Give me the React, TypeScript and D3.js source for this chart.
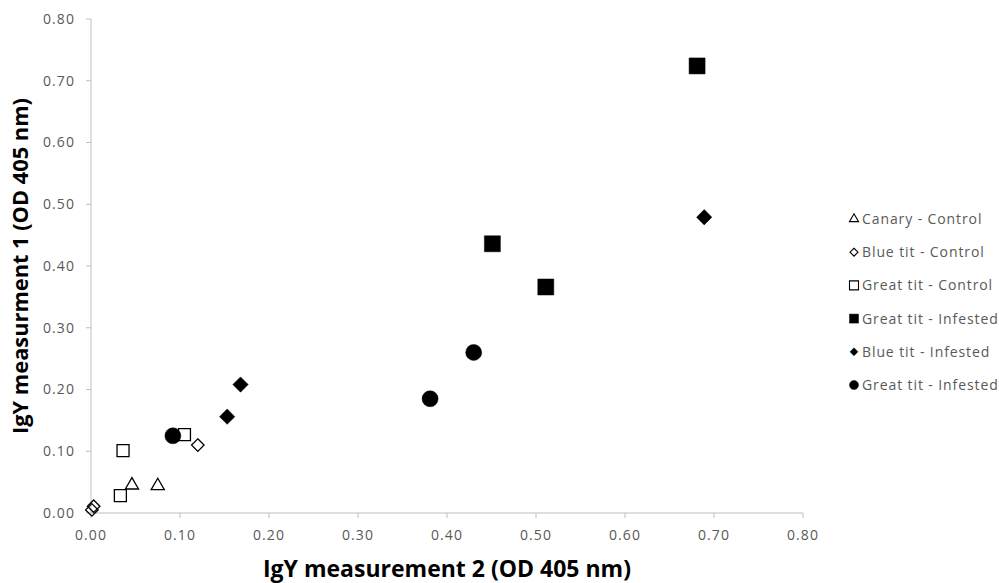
import React from "react";
import * as d3 from "d3";

const xTicks = [0, 0.1, 0.2, 0.3, 0.4, 0.5, 0.6, 0.7, 0.8];
const yTicks = [0, 0.1, 0.2, 0.3, 0.4, 0.5, 0.6, 0.7, 0.8];

const seriesNames = [
  "Canary - Control",
  "Blue tit - Control",
  "Great tit - Control",
  "Great tit - Infested",
  "Blue tit - Infested",
  "Great tit - Infested",
];
const seriesShapes = ["triangle", "diamond", "square", "square", "diamond", "circle"];
const seriesFilled = [false, false, false, true, true, true];

const canaryControl = [
  [0.046, 0.045],
  [0.075, 0.044],
];
const blueTitControl = [
  [0.12, 0.11],
  [0.003, 0.011],
  [0.001, 0.005],
];
const greatTitControl = [
  [0.105, 0.127],
  [0.036, 0.101],
  [0.033, 0.028],
];
const greatTitInfestedSq = [
  [0.681, 0.724],
  [0.451, 0.436],
  [0.511, 0.366],
];
const blueTitInfested = [
  [0.689, 0.479],
  [0.168, 0.208],
  [0.153, 0.156],
];
const greatTitInfestedCirc = [
  [0.43, 0.26],
  [0.381, 0.185],
  [0.092, 0.125],
];
const seriesData = [
  canaryControl,
  blueTitControl,
  greatTitControl,
  greatTitInfestedSq,
  blueTitInfested,
  greatTitInfestedCirc,
];

const W = 999;
const H = 583;
const FONT = "'Open Sans', Lato, sans-serif";

function markerPath(shape: string, size: number): string {
  const symType =
    shape === "triangle"
      ? d3.symbolTriangle
      : shape === "diamond"
      ? d3.symbolDiamond2
      : shape === "square"
      ? d3.symbolSquare
      : d3.symbolCircle;
  return d3.symbol().type(symType).size(size)() as string;
}

function plotSize(shape: string, filled: boolean): number {
  if (shape === "square") return filled ? 16 * 16 : 12 * 12;
  if (shape === "circle") return Math.PI * 8 * 8;
  if (shape === "diamond") return filled ? 150 : 100;
  return 75;
}

function legendSize(shape: string): number {
  if (shape === "square") return 9 * 9;
  if (shape === "circle") return Math.PI * 4.5 * 4.5;
  if (shape === "diamond") return 40;
  return 36;
}

export default function App() {
  const x = d3.scaleLinear().domain([0, 0.8]).range([91, 803]);
  const y = d3.scaleLinear().domain([0, 0.8]).range([513, 19]);
  const axisColor = "#bfbfbf";
  const textColor = "#595959";

  return (
    <svg
      width={W}
      height={H}
      style={{ position: "absolute", left: 0, top: 0, background: "#fff" }}
    >
      <rect width={W} height={H} fill="#fff" />
      {/* y axis */}
      <line x1={x(0)} x2={x(0)} y1={y(0.8)} y2={y(0)} stroke={axisColor} strokeWidth={1} />
      {yTicks.map((t) => (
        <g key={"y" + t}>
          <line x1={x(0) - 5} x2={x(0)} y1={y(t)} y2={y(t)} stroke={axisColor} />
          <text
            x={75}
            y={y(t)}
            dy="0.35em"
            textAnchor="end"
            fontFamily={FONT}
            fontSize={14}
            letterSpacing={1.1}
            fill={textColor}
          >
            {d3.format(".2f")(t)}
          </text>
        </g>
      ))}
      {/* x axis */}
      <line x1={x(0)} x2={x(0.8)} y1={y(0)} y2={y(0)} stroke={axisColor} strokeWidth={1} />
      {xTicks.map((t) => (
        <g key={"x" + t}>
          <line x1={x(t)} x2={x(t)} y1={y(0)} y2={y(0) + 5} stroke={axisColor} />
          <text
            x={x(t)}
            y={540}
            textAnchor="middle"
            fontFamily={FONT}
            fontSize={14}
            letterSpacing={1.1}
            fill={textColor}
          >
            {d3.format(".2f")(t)}
          </text>
        </g>
      ))}
      {/* axis titles */}
      <text
        x={(x(0) + x(0.8)) / 2}
        y={577}
        textAnchor="middle"
        fontFamily={FONT}
        fontWeight="bold"
        fontSize={23}
        fill="#000"
      >
        IgY measurement 2 (OD 405 nm)
      </text>
      <text
        transform={`translate(28, ${(y(0) + y(0.8)) / 2}) rotate(-90)`}
        textAnchor="middle"
        fontFamily={FONT}
        fontWeight="bold"
        fontSize={21.8}
        fill="#000"
      >
        IgY measurment 1 (OD 405 nm)
      </text>
      {/* points */}
      {seriesData.map((pts, si) =>
        pts.map((p, pi) => {
          const shape = seriesShapes[si];
          const filled = seriesFilled[si];
          return (
            <path
              key={si + "-" + pi}
              d={markerPath(shape, plotSize(shape, filled))}
              transform={`translate(${x(p[0])}, ${y(p[1])})`}
              fill={filled ? "#000" : "#fff"}
              stroke="#000"
              strokeWidth={filled ? 0.5 : 1.3}
              fillOpacity={filled ? 1 : 0}
            />
          );
        })
      )}
      {/* legend */}
      {seriesNames.map((name, i) => {
        const ly = 219 + i * 33.2;
        const shape = seriesShapes[i];
        const filled = seriesFilled[i];
        return (
          <g key={"leg" + i}>
            <path
              d={markerPath(shape, legendSize(shape))}
              transform={`translate(854, ${ly})`}
              fill={filled ? "#000" : "none"}
              stroke="#000"
              strokeWidth={filled ? 0.5 : 1.1}
            />
            <text
              x={862}
              y={ly}
              dy="0.35em"
              fontFamily={FONT}
              fontSize={14}
              letterSpacing={0.9}
              fill={textColor}
            >
              {name}
            </text>
          </g>
        );
      })}
    </svg>
  );
}
